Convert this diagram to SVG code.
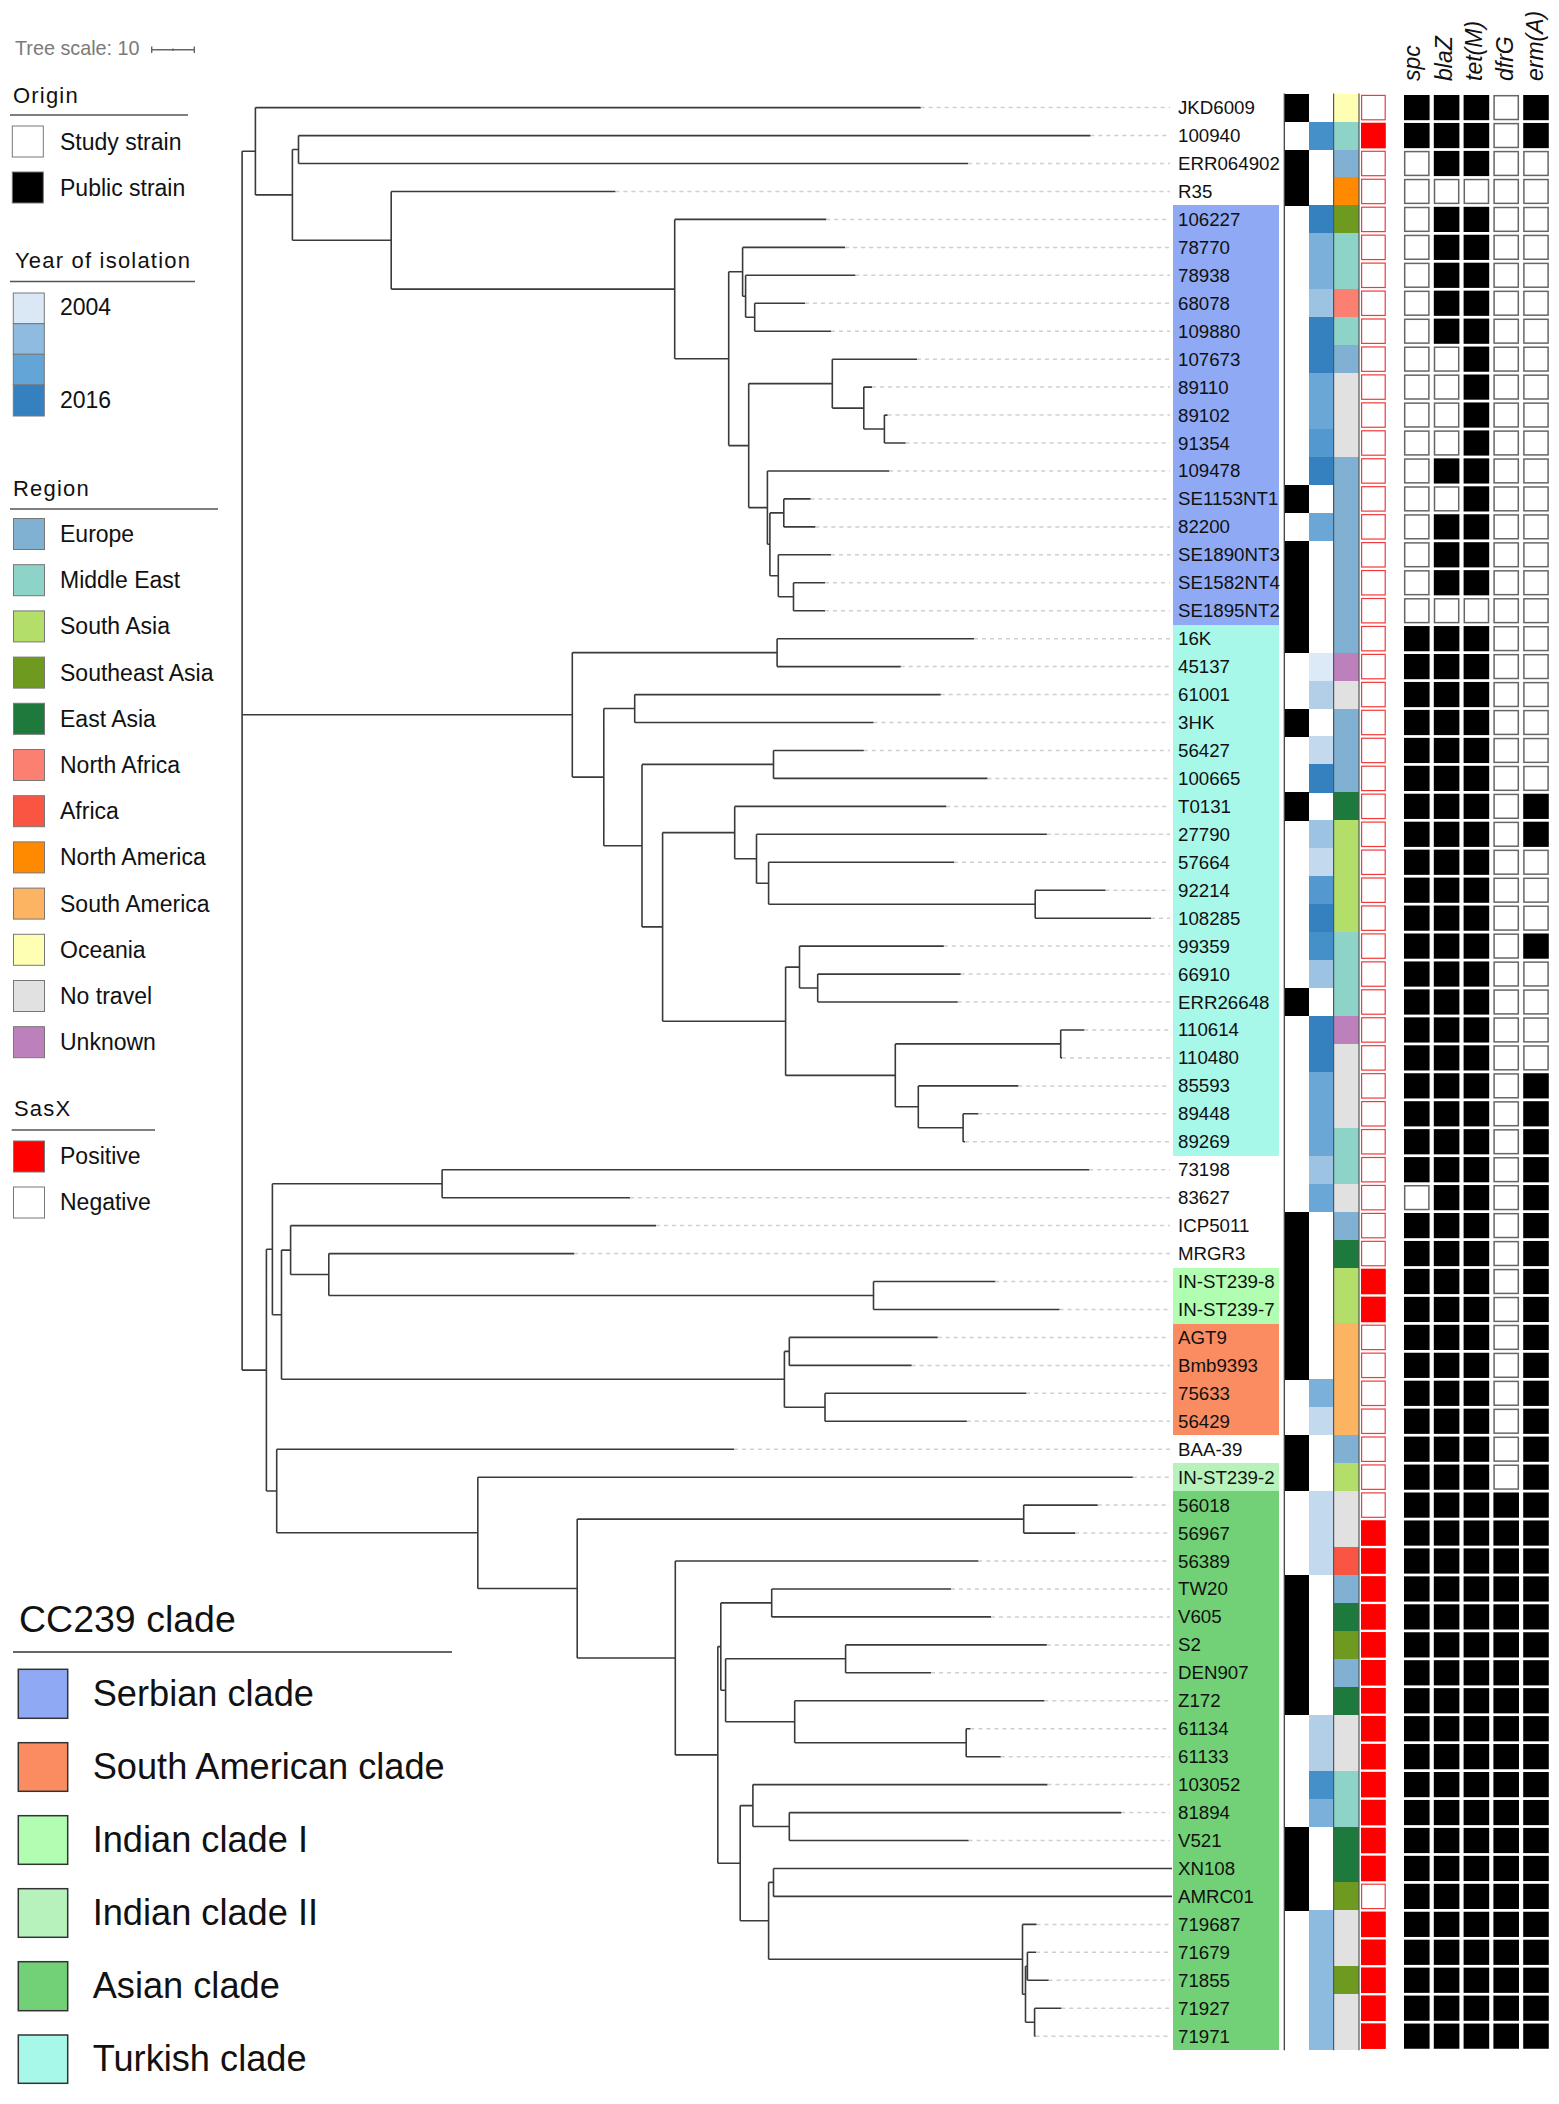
<svg xmlns="http://www.w3.org/2000/svg" xmlns:xlink="http://www.w3.org/1999/xlink" width="1559" height="2104" viewBox="0 0 1559 2104">
<style>
text{font-family:"Liberation Sans",Arial,sans-serif;fill:#111}
.lb{font-size:18.7px}
.lg{font-size:23px}
.tt{font-size:22px;letter-spacing:1.2px}
.cc{font-size:36.2px}
.gh{font-size:23px;font-style:italic}
.ts{font-size:19.8px;fill:#7a7a7a}
.tree{fill:none;stroke:#3a3a3a;stroke-width:1.6}
.dot{fill:none;stroke:#cfcfcf;stroke-width:1.5;stroke-dasharray:4 4}
.hl{stroke:#555;stroke-width:1.5}
.lbx{stroke:#777;stroke-width:1}
.eu{fill:#80B1D3}.me{fill:#8DD3C7}.sa{fill:#B3DE69}.se{fill:#6E9B1F}.ea{fill:#1E7A3C}.na{fill:#FB8072}.af{fill:#FA5542}.nam{fill:#FF8A00}.sam{fill:#FDB462}.oc{fill:#FFFFB3}.nt{fill:#E1E1E1}.un{fill:#BC80BD}
.y1{fill:#DCE9F6}.y2{fill:#C3D9EE}.y3{fill:#B3CFE8}.y4{fill:#9DC3E3}.y5{fill:#8DBADF}.y6{fill:#7BB0DA}.y7{fill:#6AA6D6}.y8{fill:#5399CF}.y9{fill:#4590C9}.y10{fill:#3581C0}
</style>
<defs>
<rect id="cO" x="1284.5" y="-14" width="24.8" height="28.2" shape-rendering="crispEdges"/>
<rect id="cY" x="1309.3" y="-14" width="24.2" height="28.2" shape-rendering="crispEdges"/>
<rect id="cR" x="1334" y="-14" width="24.7" height="28.2" shape-rendering="crispEdges"/>
<rect id="sN" x="1361.6" y="-12.2" width="23.6" height="24.4" fill="#fff" stroke="#f23a3a" stroke-width="1.2"/>
<rect id="sP" x="1361" y="-12.8" width="24.8" height="25.6" fill="#ff0000"/>
<rect id="cB" y="-12.6" width="25.6" height="25.2" fill="#000"/>
<rect id="cW" x="0.7" y="-11.9" width="24.2" height="23.8" fill="#fff" stroke="#666" stroke-width="1.5"/>
<g id="BBBWB"><use href="#cB" x="1404"/><use href="#cB" x="1433.8"/><use href="#cB" x="1463.6"/><use href="#cW" x="1493.4"/><use href="#cB" x="1523.2"/></g>
<g id="BBBWW"><use href="#cB" x="1404"/><use href="#cB" x="1433.8"/><use href="#cB" x="1463.6"/><use href="#cW" x="1493.4"/><use href="#cW" x="1523.2"/></g>
<g id="WBBWW"><use href="#cW" x="1404"/><use href="#cB" x="1433.8"/><use href="#cB" x="1463.6"/><use href="#cW" x="1493.4"/><use href="#cW" x="1523.2"/></g>
<g id="WWBWW"><use href="#cW" x="1404"/><use href="#cW" x="1433.8"/><use href="#cB" x="1463.6"/><use href="#cW" x="1493.4"/><use href="#cW" x="1523.2"/></g>
<g id="WWWWW"><use href="#cW" x="1404"/><use href="#cW" x="1433.8"/><use href="#cW" x="1463.6"/><use href="#cW" x="1493.4"/><use href="#cW" x="1523.2"/></g>
<g id="WBBWB"><use href="#cW" x="1404"/><use href="#cB" x="1433.8"/><use href="#cB" x="1463.6"/><use href="#cW" x="1493.4"/><use href="#cB" x="1523.2"/></g>
<g id="BBBBB"><use href="#cB" x="1404"/><use href="#cB" x="1433.8"/><use href="#cB" x="1463.6"/><use href="#cB" x="1493.4"/><use href="#cB" x="1523.2"/></g>
</defs>
<rect width="1559" height="2104" fill="#fff"/>

<g id="legend">
<text class="ts" x="15" y="55">Tree scale: 10</text>
<path d="M151.7,49.8H194.3M151.7,46.5V53.1M194.3,46.5V53.1M173,48.5V51" stroke="#666" stroke-width="1.4" fill="none"/>
<text class="tt" x="13" y="103">Origin</text>
<line class="hl" x1="10" y1="115" x2="188" y2="115"/>
<rect class="lbx" x="12.3" y="126" width="31" height="31" fill="#fff"/>
<text class="lg" x="60" y="149.5">Study strain</text>
<rect class="lbx" x="12.3" y="172" width="31" height="31" fill="#000"/>
<text class="lg" x="60" y="195.5">Public strain</text>
<text class="tt" x="15" y="268">Year of isolation</text>
<line class="hl" x1="10" y1="281.5" x2="195" y2="281.5"/>
<rect class="lbx" x="13.3" y="293" width="31" height="30.7" fill="#DAE8F5"/>
<rect class="lbx" x="13.3" y="323.7" width="31" height="30.6" fill="#90BBE0"/>
<rect class="lbx" x="13.3" y="354.3" width="31" height="30.7" fill="#64A5D7"/>
<rect class="lbx" x="13.3" y="385" width="31" height="31" fill="#3581C0"/>
<text class="lg" x="60" y="314.6">2004</text>
<text class="lg" x="60" y="407.6">2016</text>
<text class="tt" x="13" y="496">Region</text>
<line class="hl" x1="10" y1="509" x2="218" y2="509"/>
<rect class="lbx eu" x="13.5" y="518.5" width="31" height="31"/><text class="lg" x="60" y="542">Europe</text>
<rect class="lbx me" x="13.5" y="564.7" width="31" height="31"/><text class="lg" x="60" y="588.2">Middle East</text>
<rect class="lbx sa" x="13.5" y="610.9" width="31" height="31"/><text class="lg" x="60" y="634.4">South Asia</text>
<rect class="lbx se" x="13.5" y="657.1" width="31" height="31"/><text class="lg" x="60" y="680.6">Southeast Asia</text>
<rect class="lbx ea" x="13.5" y="703.3" width="31" height="31"/><text class="lg" x="60" y="726.8">East Asia</text>
<rect class="lbx na" x="13.5" y="749.5" width="31" height="31"/><text class="lg" x="60" y="773">North Africa</text>
<rect class="lbx af" x="13.5" y="795.7" width="31" height="31"/><text class="lg" x="60" y="819.2">Africa</text>
<rect class="lbx nam" x="13.5" y="841.9" width="31" height="31"/><text class="lg" x="60" y="865.4">North America</text>
<rect class="lbx sam" x="13.5" y="888.1" width="31" height="31"/><text class="lg" x="60" y="911.6">South America</text>
<rect class="lbx oc" x="13.5" y="934.3" width="31" height="31"/><text class="lg" x="60" y="957.8">Oceania</text>
<rect class="lbx nt" x="13.5" y="980.5" width="31" height="31"/><text class="lg" x="60" y="1004">No travel</text>
<rect class="lbx un" x="13.5" y="1026.7" width="31" height="31"/><text class="lg" x="60" y="1050.2">Unknown</text>
<text class="tt" x="14" y="1116">SasX</text>
<line class="hl" x1="11.7" y1="1130" x2="155" y2="1130"/>
<rect class="lbx" x="13.5" y="1141" width="31" height="31" fill="#ff0000"/><text class="lg" x="60" y="1164">Positive</text>
<rect class="lbx" x="13.5" y="1187" width="31" height="31" fill="#fff"/><text class="lg" x="60" y="1210">Negative</text>
<text x="19" y="1632" style="font-size:37.5px">CC239 clade</text>
<line x1="13" y1="1652" x2="452" y2="1652" stroke="#333" stroke-width="1.6"/>
<g stroke="#333" stroke-width="1.5">
<rect x="18.3" y="1669.3" width="49.4" height="49" fill="#8FA9F5"/>
<rect x="18.3" y="1742.7" width="49.4" height="48.6" fill="#FA8C62"/>
<rect x="18.3" y="1815.7" width="49.4" height="48.6" fill="#B1FDB1"/>
<rect x="18.3" y="1888.7" width="49.4" height="48.6" fill="#B7F2BC"/>
<rect x="18.3" y="1961.7" width="49.4" height="49" fill="#72D176"/>
<rect x="18.3" y="2035" width="49.4" height="48.3" fill="#A8F8EA"/>
</g>
<text class="cc" x="92.7" y="1705.5">Serbian clade</text>
<text class="cc" x="92.7" y="1778.5">South American clade</text>
<text class="cc" x="92.7" y="1851.5">Indian clade I</text>
<text class="cc" x="92.7" y="1924.5">Indian clade II</text>
<text class="cc" x="92.7" y="1997.5">Asian clade</text>
<text class="cc" x="92.7" y="2070.5">Turkish clade</text>
</g>

<g id="headers">
<text class="gh" transform="translate(1420,81) rotate(-90)">spc</text>
<text class="gh" transform="translate(1452,81) rotate(-90)">blaZ</text>
<text class="gh" transform="translate(1482,81) rotate(-90)">tet(M)</text>
<text class="gh" transform="translate(1513,81) rotate(-90)">dfrG</text>
<text class="gh" transform="translate(1543,81) rotate(-90)">erm(A)</text>
</g>

<g id="clades" shape-rendering="crispEdges">
<rect x="1172.7" y="205.4" width="106.6" height="419.3" fill="#8FA9F5"/>
<rect x="1172.7" y="624.7" width="106.6" height="531.1" fill="#A8F8EA"/>
<rect x="1172.7" y="1267.5" width="106.6" height="56" fill="#B1FDB1"/>
<rect x="1172.7" y="1323.5" width="106.6" height="111.8" fill="#FA8C62"/>
<rect x="1172.7" y="1463.2" width="106.6" height="28" fill="#B7F2BC"/>
<rect x="1172.7" y="1491.2" width="106.6" height="559" fill="#72D176"/>
</g>

<g id="connectors">
<path class="dot" d="M920.7,107.6H1170M1090.4,135.6H1170M968,163.5H1170M615.4,191.5H1170M826.2,219.4H1170M845,247.4H1170M855.3,275.3H1170M805,303.3H1170M831,331.2H1170M917,359.2H1170M872,387.1H1170M887.5,415.1H1170M905.6,443H1170M889.2,471H1170M810.5,498.9H1170M815.3,526.9H1170M831,554.8H1170M825,582.8H1170M825,610.7H1170M974,638.7H1170M900.7,666.6H1170M940.7,694.6H1170M873.5,722.5H1170M863.8,750.5H1170M987.4,778.4H1170M946.2,806.4H1170M1046.8,834.3H1170M954,862.3H1170M1105.5,890.2H1170M1151,918.2H1170M943.8,946.1H1170M960.7,974.1H1170M957.7,1002H1170M1084.3,1030H1170M1062,1057.9H1170M1018.3,1085.9H1170M978.3,1113.8H1170M965,1141.8H1170M1089.2,1169.7H1170M629.9,1197.7H1170M656,1225.6H1170M574.2,1253.6H1170M995.3,1281.5H1170M1059.5,1309.5H1170M937.7,1337.4H1170M911.6,1365.4H1170M1026.2,1393.3H1170M966.8,1421.3H1170M734.1,1449.2H1170M1132.8,1477.2H1170M1097.7,1505.1H1170M1075.2,1533.1H1170M978.3,1561H1170M951,1589H1170M991,1616.9H1170M1046.8,1644.9H1170M931,1672.8H1170M1044.3,1700.8H1170M970.4,1728.7H1170M1000.7,1756.7H1170M1047.4,1784.6H1170M1121.3,1812.6H1170M968.6,1840.5H1170M1036.5,1924.4H1170M1036,1952.3H1170M1048.6,1980.3H1170M1061.3,2008.2H1170M1035.5,2036.2H1170"/>
<path class="tree" d="M242.1,151.3V1370.1M242.1,151.3H255.4M242.1,714.8H572.3M242.1,1370.1H266.4
M255.4,107.6V194.9M255.4,107.6H920.7M255.4,194.9H292.4
M292.4,149.5V240.3M292.4,149.5H298.5M292.4,240.3H391.2
M298.5,135.6V163.5M298.5,135.6H1090.4M298.5,163.5H968
M391.2,191.5V289.1M391.2,191.5H615.4M391.2,289.1H674.7
M674.7,219.4V358.7M674.7,219.4H826.2M674.7,358.7H728.7
M728.7,271.8V445.6M728.7,271.8H742.6M728.7,445.6H748.7
M742.6,247.4V296.3M742.6,247.4H845M742.6,296.3H745.6
M745.6,275.3V317.2M745.6,275.3H855.3M745.6,317.2H754.7
M754.7,303.3V331.2M754.7,303.3H805M754.7,331.2H831
M748.7,383.6V507.6M748.7,383.6H832.3M748.7,507.6H767.4
M832.3,359.2V408.1M832.3,359.2H917M832.3,408.1H863.8
M863.8,387.1V429M863.8,387.1H872M863.8,429H884.4
M884.4,415.1V443M884.4,415.1H887.5M884.4,443H905.6
M767.4,471V544.3M767.4,471H889.2M767.4,544.3H769.9
M769.9,512.9V575.8M769.9,512.9H783.8M769.9,575.8H778.3
M783.8,498.9V526.9M783.8,498.9H810.5M783.8,526.9H815.3
M778.3,554.8V596.7M778.3,554.8H831M778.3,596.7H793.5
M793.5,582.8V610.7M793.5,582.8H825M793.5,610.7H825
M572.3,652.6V777.1M572.3,652.6H777.1M572.3,777.1H603.8
M777.1,638.7V666.6M777.1,638.7H974M777.1,666.6H900.7
M603.8,708.5V845.7M603.8,708.5H634.7M603.8,845.7H642
M634.7,694.6V722.5M634.7,694.6H940.7M634.7,722.5H873.5
M642,764.4V926.9M642,764.4H773.5M642,926.9H662.6
M773.5,750.5V778.4M773.5,750.5H863.8M773.5,778.4H987.4
M662.6,832.6V1021.2M662.6,832.6H734.7M662.6,1021.2H785.6
M734.7,806.4V858.8M734.7,806.4H946.2M734.7,858.8H756.5
M756.5,834.3V883.2M756.5,834.3H1046.8M756.5,883.2H768.6
M768.6,862.3V904.2M768.6,862.3H954M768.6,904.2H1035.2
M1035.2,890.2V918.2M1035.2,890.2H1105.5M1035.2,918.2H1151
M785.6,967.1V1075.4M785.6,967.1H799.5M785.6,1075.4H895.3
M799.5,946.1V988M799.5,946.1H943.8M799.5,988H817.7
M817.7,974.1V1002M817.7,974.1H960.7M817.7,1002H957.7
M895.3,1043.9V1106.8M895.3,1043.9H1060.7M895.3,1106.8H918.3
M1060.7,1030V1057.9M1060.7,1030H1084.3M1060.7,1057.9H1062
M918.3,1085.9V1127.8M918.3,1085.9H1018.3M918.3,1127.8H963.1
M963.1,1113.8V1141.8M963.1,1113.8H978.3M963.1,1141.8H965
M266.4,1249.2V1491M266.4,1249.2H272.4M266.4,1491H276.7
M272.4,1183.7V1314.7M272.4,1183.7H442.1M272.4,1314.7H281.5
M442.1,1169.7V1197.7M442.1,1169.7H1089.2M442.1,1197.7H629.9
M281.5,1250.1V1379.3M281.5,1250.1H290.6M281.5,1379.3H784.4
M290.6,1225.6V1274.5M290.6,1225.6H656M290.6,1274.5H328.8
M328.8,1253.6V1295.5M328.8,1253.6H574.2M328.8,1295.5H873.5
M873.5,1281.5V1309.5M873.5,1281.5H995.3M873.5,1309.5H1059.5
M784.4,1351.4V1407.3M784.4,1351.4H789.3M784.4,1407.3H825
M789.3,1337.4V1365.4M789.3,1337.4H937.7M789.3,1365.4H911.6
M825,1393.3V1421.3M825,1393.3H1026.2M825,1421.3H966.8
M276.7,1449.2V1532.8M276.7,1449.2H734.1M276.7,1532.8H477.8
M477.8,1477.2V1588.5M477.8,1477.2H1132.8M477.8,1588.5H577.2
M577.2,1519.1V1658M577.2,1519.1H1023.7M577.2,1658H675.3
M1023.7,1505.1V1533.1M1023.7,1505.1H1097.7M1023.7,1533.1H1075.2
M675.3,1561V1754.9M675.3,1561H978.3M675.3,1754.9H717.8
M717.8,1646.6V1863.2M717.8,1646.6H720.8M717.8,1863.2H740.2
M720.8,1602.9V1690.3M720.8,1602.9H771.7M720.8,1690.3H725.6
M771.7,1589V1616.9M771.7,1589H951M771.7,1616.9H991
M725.6,1658.8V1721.7M725.6,1658.8H845.6M725.6,1721.7H794.7
M845.6,1644.9V1672.8M845.6,1644.9H1046.8M845.6,1672.8H931
M794.7,1700.8V1742.7M794.7,1700.8H1044.3M794.7,1742.7H966.2
M966.2,1728.7V1756.7M966.2,1728.7H970.4M966.2,1756.7H1000.7
M740.2,1805.6V1920.8M740.2,1805.6H752.9M740.2,1920.8H768.6
M752.9,1784.6V1826.5M752.9,1784.6H1047.4M752.9,1826.5H789.3
M789.3,1812.6V1840.5M789.3,1812.6H1121.3M789.3,1840.5H968.6
M768.6,1882.4V1959.3M768.6,1882.4H773.5M768.6,1959.3H1022.5
M773.5,1868.5V1896.4M773.5,1868.5H1172M773.5,1896.4H1172
M1022.5,1924.4V1994.2M1022.5,1924.4H1036.5M1022.5,1994.2H1025.5
M1025.5,1966.3V2022.2M1025.5,1966.3H1027.4M1025.5,2022.2H1034.6
M1027.4,1952.3V1980.3M1027.4,1952.3H1036M1027.4,1980.3H1048.6
M1034.6,2008.2V2036.2M1034.6,2008.2H1061.3M1034.6,2036.2H1035.5"/>
</g>

<g id="leaves">
<g id="leaf-JKD6009" transform="translate(0,107.6)"><text class="lb" x="1178" y="6.5">JKD6009</text><use href="#cO"/><use href="#cR" class="oc"/><use href="#sN"/><use href="#BBBWB"/></g>
<g id="leaf-100940" transform="translate(0,135.55)"><text class="lb" x="1178" y="6.5">100940</text><use href="#cY" class="y9"/><use href="#cR" class="me"/><use href="#sP"/><use href="#BBBWB"/></g>
<g id="leaf-ERR064902" transform="translate(0,163.5)"><text class="lb" x="1178" y="6.5">ERR064902</text><use href="#cO"/><use href="#cR" class="eu"/><use href="#sN"/><use href="#WBBWW"/></g>
<g id="leaf-R35" transform="translate(0,191.45)"><text class="lb" x="1178" y="6.5">R35</text><use href="#cO"/><use href="#cR" class="nam"/><use href="#sN"/><use href="#WWWWW"/></g>
<g id="leaf-106227" transform="translate(0,219.4)"><text class="lb" x="1178" y="6.5">106227</text><use href="#cY" class="y10"/><use href="#cR" class="se"/><use href="#sN"/><use href="#WBBWW"/></g>
<g id="leaf-78770" transform="translate(0,247.35)"><text class="lb" x="1178" y="6.5">78770</text><use href="#cY" class="y6"/><use href="#cR" class="me"/><use href="#sN"/><use href="#WBBWW"/></g>
<g id="leaf-78938" transform="translate(0,275.3)"><text class="lb" x="1178" y="6.5">78938</text><use href="#cY" class="y6"/><use href="#cR" class="me"/><use href="#sN"/><use href="#WBBWW"/></g>
<g id="leaf-68078" transform="translate(0,303.25)"><text class="lb" x="1178" y="6.5">68078</text><use href="#cY" class="y4"/><use href="#cR" class="na"/><use href="#sN"/><use href="#WBBWW"/></g>
<g id="leaf-109880" transform="translate(0,331.2)"><text class="lb" x="1178" y="6.5">109880</text><use href="#cY" class="y10"/><use href="#cR" class="me"/><use href="#sN"/><use href="#WBBWW"/></g>
<g id="leaf-107673" transform="translate(0,359.15)"><text class="lb" x="1178" y="6.5">107673</text><use href="#cY" class="y10"/><use href="#cR" class="eu"/><use href="#sN"/><use href="#WWBWW"/></g>
<g id="leaf-89110" transform="translate(0,387.1)"><text class="lb" x="1178" y="6.5">89110</text><use href="#cY" class="y7"/><use href="#cR" class="nt"/><use href="#sN"/><use href="#WWBWW"/></g>
<g id="leaf-89102" transform="translate(0,415.05)"><text class="lb" x="1178" y="6.5">89102</text><use href="#cY" class="y7"/><use href="#cR" class="nt"/><use href="#sN"/><use href="#WWBWW"/></g>
<g id="leaf-91354" transform="translate(0,443)"><text class="lb" x="1178" y="6.5">91354</text><use href="#cY" class="y8"/><use href="#cR" class="nt"/><use href="#sN"/><use href="#WWBWW"/></g>
<g id="leaf-109478" transform="translate(0,470.95)"><text class="lb" x="1178" y="6.5">109478</text><use href="#cY" class="y10"/><use href="#cR" class="eu"/><use href="#sN"/><use href="#WBBWW"/></g>
<g id="leaf-SE1153NT1" transform="translate(0,498.9)"><text class="lb" x="1178" y="6.5">SE1153NT1</text><use href="#cO"/><use href="#cR" class="eu"/><use href="#sN"/><use href="#WWBWW"/></g>
<g id="leaf-82200" transform="translate(0,526.85)"><text class="lb" x="1178" y="6.5">82200</text><use href="#cY" class="y7"/><use href="#cR" class="eu"/><use href="#sN"/><use href="#WBBWW"/></g>
<g id="leaf-SE1890NT3" transform="translate(0,554.8)"><text class="lb" x="1178" y="6.5">SE1890NT3</text><use href="#cO"/><use href="#cR" class="eu"/><use href="#sN"/><use href="#WBBWW"/></g>
<g id="leaf-SE1582NT4" transform="translate(0,582.75)"><text class="lb" x="1178" y="6.5">SE1582NT4</text><use href="#cO"/><use href="#cR" class="eu"/><use href="#sN"/><use href="#WBBWW"/></g>
<g id="leaf-SE1895NT2" transform="translate(0,610.7)"><text class="lb" x="1178" y="6.5">SE1895NT2</text><use href="#cO"/><use href="#cR" class="eu"/><use href="#sN"/><use href="#WWWWW"/></g>
<g id="leaf-16K" transform="translate(0,638.65)"><text class="lb" x="1178" y="6.5">16K</text><use href="#cO"/><use href="#cR" class="eu"/><use href="#sN"/><use href="#BBBWW"/></g>
<g id="leaf-45137" transform="translate(0,666.6)"><text class="lb" x="1178" y="6.5">45137</text><use href="#cY" class="y1"/><use href="#cR" class="un"/><use href="#sN"/><use href="#BBBWW"/></g>
<g id="leaf-61001" transform="translate(0,694.55)"><text class="lb" x="1178" y="6.5">61001</text><use href="#cY" class="y3"/><use href="#cR" class="nt"/><use href="#sN"/><use href="#BBBWW"/></g>
<g id="leaf-3HK" transform="translate(0,722.5)"><text class="lb" x="1178" y="6.5">3HK</text><use href="#cO"/><use href="#cR" class="eu"/><use href="#sN"/><use href="#BBBWW"/></g>
<g id="leaf-56427" transform="translate(0,750.45)"><text class="lb" x="1178" y="6.5">56427</text><use href="#cY" class="y2"/><use href="#cR" class="eu"/><use href="#sN"/><use href="#BBBWW"/></g>
<g id="leaf-100665" transform="translate(0,778.4)"><text class="lb" x="1178" y="6.5">100665</text><use href="#cY" class="y10"/><use href="#cR" class="eu"/><use href="#sN"/><use href="#BBBWW"/></g>
<g id="leaf-T0131" transform="translate(0,806.35)"><text class="lb" x="1178" y="6.5">T0131</text><use href="#cO"/><use href="#cR" class="ea"/><use href="#sN"/><use href="#BBBWB"/></g>
<g id="leaf-27790" transform="translate(0,834.3)"><text class="lb" x="1178" y="6.5">27790</text><use href="#cY" class="y4"/><use href="#cR" class="sa"/><use href="#sN"/><use href="#BBBWB"/></g>
<g id="leaf-57664" transform="translate(0,862.25)"><text class="lb" x="1178" y="6.5">57664</text><use href="#cY" class="y2"/><use href="#cR" class="sa"/><use href="#sN"/><use href="#BBBWW"/></g>
<g id="leaf-92214" transform="translate(0,890.2)"><text class="lb" x="1178" y="6.5">92214</text><use href="#cY" class="y8"/><use href="#cR" class="sa"/><use href="#sN"/><use href="#BBBWW"/></g>
<g id="leaf-108285" transform="translate(0,918.15)"><text class="lb" x="1178" y="6.5">108285</text><use href="#cY" class="y10"/><use href="#cR" class="sa"/><use href="#sN"/><use href="#BBBWW"/></g>
<g id="leaf-99359" transform="translate(0,946.1)"><text class="lb" x="1178" y="6.5">99359</text><use href="#cY" class="y9"/><use href="#cR" class="me"/><use href="#sN"/><use href="#BBBWB"/></g>
<g id="leaf-66910" transform="translate(0,974.05)"><text class="lb" x="1178" y="6.5">66910</text><use href="#cY" class="y4"/><use href="#cR" class="me"/><use href="#sN"/><use href="#BBBWW"/></g>
<g id="leaf-ERR26648" transform="translate(0,1002)"><text class="lb" x="1178" y="6.5">ERR26648</text><use href="#cO"/><use href="#cR" class="me"/><use href="#sN"/><use href="#BBBWW"/></g>
<g id="leaf-110614" transform="translate(0,1029.95)"><text class="lb" x="1178" y="6.5">110614</text><use href="#cY" class="y10"/><use href="#cR" class="un"/><use href="#sN"/><use href="#BBBWW"/></g>
<g id="leaf-110480" transform="translate(0,1057.9)"><text class="lb" x="1178" y="6.5">110480</text><use href="#cY" class="y10"/><use href="#cR" class="nt"/><use href="#sN"/><use href="#BBBWW"/></g>
<g id="leaf-85593" transform="translate(0,1085.85)"><text class="lb" x="1178" y="6.5">85593</text><use href="#cY" class="y7"/><use href="#cR" class="nt"/><use href="#sN"/><use href="#BBBWB"/></g>
<g id="leaf-89448" transform="translate(0,1113.8)"><text class="lb" x="1178" y="6.5">89448</text><use href="#cY" class="y7"/><use href="#cR" class="nt"/><use href="#sN"/><use href="#BBBWB"/></g>
<g id="leaf-89269" transform="translate(0,1141.75)"><text class="lb" x="1178" y="6.5">89269</text><use href="#cY" class="y7"/><use href="#cR" class="me"/><use href="#sN"/><use href="#BBBWB"/></g>
<g id="leaf-73198" transform="translate(0,1169.7)"><text class="lb" x="1178" y="6.5">73198</text><use href="#cY" class="y4"/><use href="#cR" class="me"/><use href="#sN"/><use href="#BBBWB"/></g>
<g id="leaf-83627" transform="translate(0,1197.65)"><text class="lb" x="1178" y="6.5">83627</text><use href="#cY" class="y7"/><use href="#cR" class="nt"/><use href="#sN"/><use href="#WBBWB"/></g>
<g id="leaf-ICP5011" transform="translate(0,1225.6)"><text class="lb" x="1178" y="6.5">ICP5011</text><use href="#cO"/><use href="#cR" class="eu"/><use href="#sN"/><use href="#BBBWB"/></g>
<g id="leaf-MRGR3" transform="translate(0,1253.55)"><text class="lb" x="1178" y="6.5">MRGR3</text><use href="#cO"/><use href="#cR" class="ea"/><use href="#sN"/><use href="#BBBWB"/></g>
<g id="leaf-IN-ST239-8" transform="translate(0,1281.5)"><text class="lb" x="1178" y="6.5">IN-ST239-8</text><use href="#cO"/><use href="#cR" class="sa"/><use href="#sP"/><use href="#BBBWB"/></g>
<g id="leaf-IN-ST239-7" transform="translate(0,1309.45)"><text class="lb" x="1178" y="6.5">IN-ST239-7</text><use href="#cO"/><use href="#cR" class="sa"/><use href="#sP"/><use href="#BBBWB"/></g>
<g id="leaf-AGT9" transform="translate(0,1337.4)"><text class="lb" x="1178" y="6.5">AGT9</text><use href="#cO"/><use href="#cR" class="sam"/><use href="#sN"/><use href="#BBBWB"/></g>
<g id="leaf-Bmb9393" transform="translate(0,1365.35)"><text class="lb" x="1178" y="6.5">Bmb9393</text><use href="#cO"/><use href="#cR" class="sam"/><use href="#sN"/><use href="#BBBWB"/></g>
<g id="leaf-75633" transform="translate(0,1393.3)"><text class="lb" x="1178" y="6.5">75633</text><use href="#cY" class="y6"/><use href="#cR" class="sam"/><use href="#sN"/><use href="#BBBWB"/></g>
<g id="leaf-56429" transform="translate(0,1421.25)"><text class="lb" x="1178" y="6.5">56429</text><use href="#cY" class="y2"/><use href="#cR" class="sam"/><use href="#sN"/><use href="#BBBWB"/></g>
<g id="leaf-BAA-39" transform="translate(0,1449.2)"><text class="lb" x="1178" y="6.5">BAA-39</text><use href="#cO"/><use href="#cR" class="eu"/><use href="#sN"/><use href="#BBBWB"/></g>
<g id="leaf-IN-ST239-2" transform="translate(0,1477.15)"><text class="lb" x="1178" y="6.5">IN-ST239-2</text><use href="#cO"/><use href="#cR" class="sa"/><use href="#sN"/><use href="#BBBWB"/></g>
<g id="leaf-56018" transform="translate(0,1505.1)"><text class="lb" x="1178" y="6.5">56018</text><use href="#cY" class="y2"/><use href="#cR" class="nt"/><use href="#sN"/><use href="#BBBBB"/></g>
<g id="leaf-56967" transform="translate(0,1533.05)"><text class="lb" x="1178" y="6.5">56967</text><use href="#cY" class="y2"/><use href="#cR" class="nt"/><use href="#sP"/><use href="#BBBBB"/></g>
<g id="leaf-56389" transform="translate(0,1561)"><text class="lb" x="1178" y="6.5">56389</text><use href="#cY" class="y2"/><use href="#cR" class="af"/><use href="#sP"/><use href="#BBBBB"/></g>
<g id="leaf-TW20" transform="translate(0,1588.95)"><text class="lb" x="1178" y="6.5">TW20</text><use href="#cO"/><use href="#cR" class="eu"/><use href="#sP"/><use href="#BBBBB"/></g>
<g id="leaf-V605" transform="translate(0,1616.9)"><text class="lb" x="1178" y="6.5">V605</text><use href="#cO"/><use href="#cR" class="ea"/><use href="#sP"/><use href="#BBBBB"/></g>
<g id="leaf-S2" transform="translate(0,1644.85)"><text class="lb" x="1178" y="6.5">S2</text><use href="#cO"/><use href="#cR" class="se"/><use href="#sP"/><use href="#BBBBB"/></g>
<g id="leaf-DEN907" transform="translate(0,1672.8)"><text class="lb" x="1178" y="6.5">DEN907</text><use href="#cO"/><use href="#cR" class="eu"/><use href="#sP"/><use href="#BBBBB"/></g>
<g id="leaf-Z172" transform="translate(0,1700.75)"><text class="lb" x="1178" y="6.5">Z172</text><use href="#cO"/><use href="#cR" class="ea"/><use href="#sP"/><use href="#BBBBB"/></g>
<g id="leaf-61134" transform="translate(0,1728.7)"><text class="lb" x="1178" y="6.5">61134</text><use href="#cY" class="y3"/><use href="#cR" class="nt"/><use href="#sP"/><use href="#BBBBB"/></g>
<g id="leaf-61133" transform="translate(0,1756.65)"><text class="lb" x="1178" y="6.5">61133</text><use href="#cY" class="y3"/><use href="#cR" class="nt"/><use href="#sP"/><use href="#BBBBB"/></g>
<g id="leaf-103052" transform="translate(0,1784.6)"><text class="lb" x="1178" y="6.5">103052</text><use href="#cY" class="y9"/><use href="#cR" class="me"/><use href="#sP"/><use href="#BBBBB"/></g>
<g id="leaf-81894" transform="translate(0,1812.55)"><text class="lb" x="1178" y="6.5">81894</text><use href="#cY" class="y6"/><use href="#cR" class="me"/><use href="#sP"/><use href="#BBBBB"/></g>
<g id="leaf-V521" transform="translate(0,1840.5)"><text class="lb" x="1178" y="6.5">V521</text><use href="#cO"/><use href="#cR" class="ea"/><use href="#sP"/><use href="#BBBBB"/></g>
<g id="leaf-XN108" transform="translate(0,1868.45)"><text class="lb" x="1178" y="6.5">XN108</text><use href="#cO"/><use href="#cR" class="ea"/><use href="#sP"/><use href="#BBBBB"/></g>
<g id="leaf-AMRC01" transform="translate(0,1896.4)"><text class="lb" x="1178" y="6.5">AMRC01</text><use href="#cO"/><use href="#cR" class="se"/><use href="#sN"/><use href="#BBBBB"/></g>
<g id="leaf-719687" transform="translate(0,1924.35)"><text class="lb" x="1178" y="6.5">719687</text><use href="#cY" class="y5"/><use href="#cR" class="nt"/><use href="#sP"/><use href="#BBBBB"/></g>
<g id="leaf-71679" transform="translate(0,1952.3)"><text class="lb" x="1178" y="6.5">71679</text><use href="#cY" class="y5"/><use href="#cR" class="nt"/><use href="#sP"/><use href="#BBBBB"/></g>
<g id="leaf-71855" transform="translate(0,1980.25)"><text class="lb" x="1178" y="6.5">71855</text><use href="#cY" class="y5"/><use href="#cR" class="se"/><use href="#sP"/><use href="#BBBBB"/></g>
<g id="leaf-71927" transform="translate(0,2008.2)"><text class="lb" x="1178" y="6.5">71927</text><use href="#cY" class="y5"/><use href="#cR" class="nt"/><use href="#sP"/><use href="#BBBBB"/></g>
<g id="leaf-71971" transform="translate(0,2036.15)"><text class="lb" x="1178" y="6.5">71971</text><use href="#cY" class="y5"/><use href="#cR" class="nt"/><use href="#sP"/><use href="#BBBBB"/></g>
</g>

<g id="column-borders" stroke="#333" stroke-width="1.2">
<line x1="1284.3" y1="93.6" x2="1284.3" y2="2050.2"/>
<line x1="1333.6" y1="93.6" x2="1333.6" y2="2050.2" stroke="#555"/>
<line x1="1359" y1="93.6" x2="1359" y2="2050.2" stroke="#555"/>
</g>
</svg>
